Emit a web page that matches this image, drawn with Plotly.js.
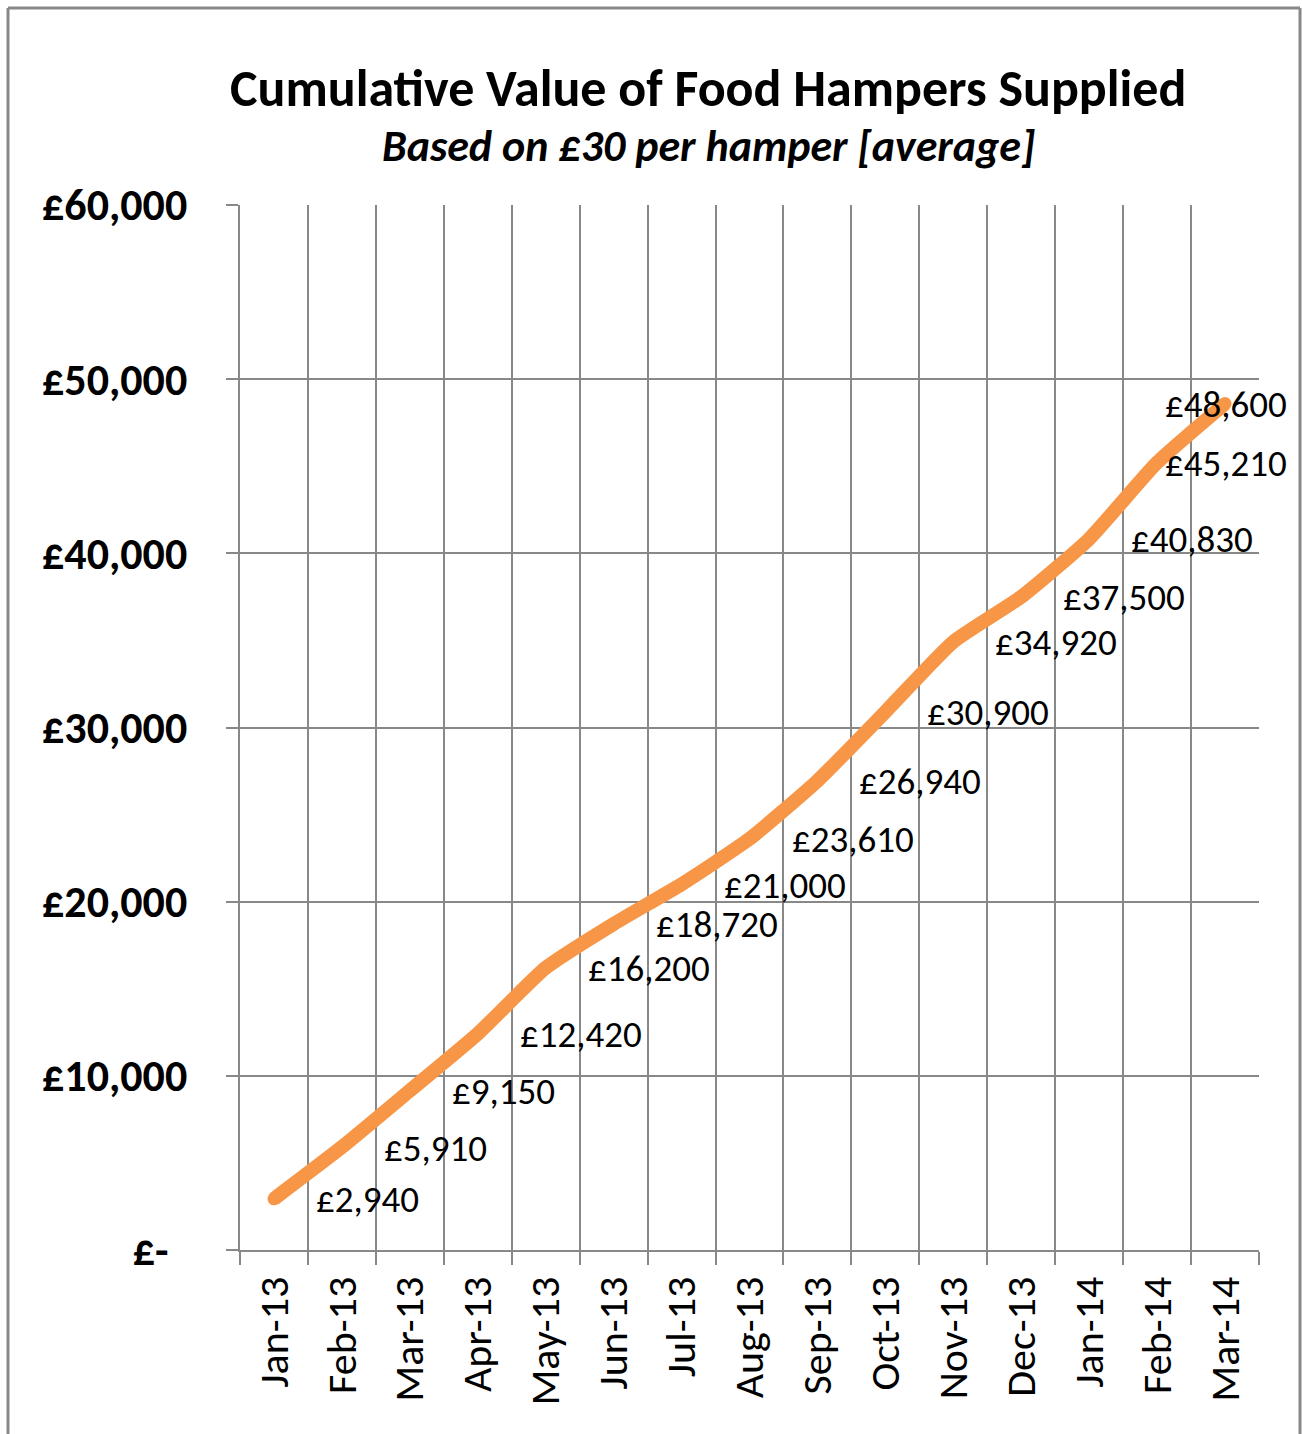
<!DOCTYPE html>
<html>
<head>
<meta charset="utf-8">
<script src="https://cdn.plot.ly/plotly-3.0.1.min.js"></script>
<style>html,body{margin:0;padding:0;background:#fff;}#chart{width:1303px;height:1434px;}</style>
</head>
<body>
<div id="chart"></div>
<script>
const months = ["Jan-13","Feb-13","Mar-13","Apr-13","May-13","Jun-13","Jul-13","Aug-13","Sep-13","Oct-13","Nov-13","Dec-13","Jan-14","Feb-14","Mar-14"];
const cumulativeValue = [2940,5910,9150,12420,16200,18720,21000,23610,26940,30900,34920,37500,40830,45210,48600];
const yTickValues = [0,10000,20000,30000,40000,50000,60000];
const yTickLabels = ["£-\u00a0\u2009","£10,000","£20,000","£30,000","£40,000","£50,000","£60,000"];
const titleText = "Cumulative Value of Food Hampers Supplied";
const subtitleText = "Based on £30 per hamper [average]";

const FONT = "Carlito, Calibri, Lato, sans-serif";
const W = 1303, H = 1434;
const M = {l:240, r:44, t:205, b:184};
const pw = W - M.l - M.r, ph = H - M.t - M.b;
const px = v => (v - M.l) / pw;
const py = v => (H - M.b - v) / ph;

function fmt(v){ return "£" + v.toLocaleString("en-GB"); }

const n = months.length;
const annotations = months.map((m, i) => {
  const nearEnd = i >= n - 2;
  return {
    x: m, y: cumulativeValue[i], xref: "x", yref: "y",
    text: fmt(cumulativeValue[i]), showarrow: false,
    xanchor: nearEnd ? "right" : "left",
    xshift: nearEnd ? (i === n - 1 ? 64 : 132) : 40,
    yshift: -1,
    font: {family: FONT, size: 37, color: "#000"}
  };
});
annotations.push({
  xref: "paper", yref: "paper", x: px(708), y: py(146), xanchor: "center", yanchor: "middle",
  showarrow: false, text: "<b><i>" + subtitleText + "</i></b>",
  font: {family: FONT, size: 44, color: "#000"}
});
annotations.push({
  xref: "paper", yref: "paper", x: px(708), y: py(88), xanchor: "center", yanchor: "middle",
  showarrow: false, text: "<b>" + titleText + "</b>",
  font: {family: FONT, size: 52, color: "#000"}
});

const trace = {
  x: months, y: cumulativeValue, type: "scatter", mode: "lines+markers",
  line: {color: "#F79646", width: 14, shape: "spline", smoothing: 0.5},
  marker: {color: "#F79646", size: 13},
  hoverinfo: "skip"
};

const layout = {
  width: W, height: H,
  margin: M,
  paper_bgcolor: "#fff", plot_bgcolor: "#fff",
  showlegend: false,
  xaxis: {
    type: "category", range: [-0.5, n - 0.5],
    tickson: "boundaries", ticks: "outside", ticklen: 13, tickwidth: 2, tickcolor: "#888",
    showgrid: true, gridcolor: "#888", gridwidth: 2,
    showline: true, linecolor: "#888", linewidth: 2,
    tickangle: -90, ticklabelstandoff: 8,
    tickfont: {family: FONT, size: 42, color: "#000"},
    fixedrange: true
  },
  yaxis: {
    range: [0, 60000], tickvals: yTickValues, ticktext: yTickLabels,
    ticks: "outside", ticklen: 12, tickwidth: 2, tickcolor: "#888",
    showgrid: true, gridcolor: "#888", gridwidth: 2,
    showline: true, linecolor: "#888", linewidth: 2,
    zeroline: false, ticklabelstandoff: 30,
    tickfont: {family: FONT, size: 44, color: "#000", weight: "bold"},
    fixedrange: true
  },
  annotations: annotations,
  shapes: [
    {type: "line", xref: "paper", yref: "paper", x0: px(8), x1: px(1300), y0: py(8), y1: py(8), line: {color: "#888", width: 3}},
    {type: "line", xref: "paper", yref: "paper", x0: px(8), x1: px(8), y0: py(8), y1: py(1440), line: {color: "#888", width: 3}},
    {type: "line", xref: "paper", yref: "paper", x0: px(1300), x1: px(1300), y0: py(8), y1: py(1440), line: {color: "#888", width: 3}}
  ]
};

Plotly.newPlot("chart", [trace], layout, {staticPlot: true, displayModeBar: false});
</script>
</body>
</html>
